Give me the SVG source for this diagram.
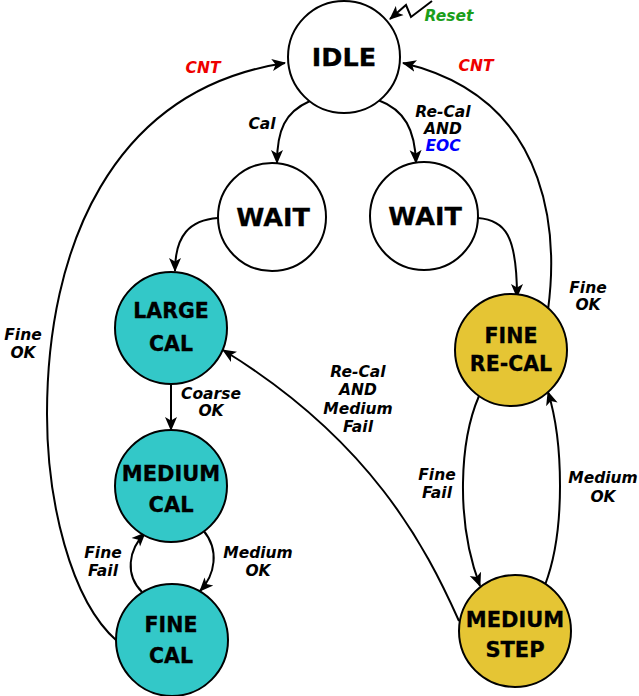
<svg xmlns="http://www.w3.org/2000/svg" width="639" height="696" viewBox="0 0 639 696">
<style>
.n{stroke:#000;stroke-width:2}
.w{fill:#fff}
.t{fill:#33c8c8}
.y{fill:#e5c534}
.nt{font-family:"DejaVu Sans",sans-serif;font-weight:bold;text-anchor:middle;fill:#000;stroke:#000;stroke-width:0.3}
.lb{font-family:"DejaVu Sans",sans-serif;font-weight:bold;font-style:italic;font-size:15.5px;text-anchor:middle;fill:#000}
.ea{fill:none;stroke:#000;stroke-width:2;marker-end:url(#ah)}
</style>
<defs>
<marker id="ah" markerUnits="userSpaceOnUse" markerWidth="16" markerHeight="14" refX="13" refY="6" orient="auto" viewBox="0 0 16 12">
<path d="M0,0 L14,6 L0,12 L3.5,6 Z" fill="#000"/>
</marker>
</defs>
<g id="connectors">
<path class="ea" d="M432,1 L411,17 L406,5 L390,19"/>
<path class="ea" d="M117,641 C70,600 47,500 47,414 C47,250 110,90 285,63"/>
<path class="ea" d="M548,310 C556,250 560,100 403,63"/>
<path class="ea" d="M310,101 C285,112 277,130 277,163"/>
<path class="ea" d="M378,100 C405,110 415,130 416,163"/>
<path class="ea" d="M218,218 C190,220 175,235 175,271"/>
<path class="ea" d="M478,218 C505,220 517,235 517,297"/>
<path class="ea" d="M171,384 L171,430"/>
<path class="ea" d="M142,592 C125,575 128,550 145,533"/>
<path class="ea" d="M203,530 C220,550 215,575 200,591"/>
<path class="ea" d="M459,621 C425,545 370,440 223,350"/>
<path class="ea" d="M479,396 C460,440 455,520 480,586"/>
<path class="ea" d="M545,585 C566,530 563,440 548,392"/>
</g>
<g id="labels">
<text class="lb" x="449" y="21" style="fill:#1a9e1a">Reset</text>
<text class="lb" x="203" y="73" style="fill:#e00">CNT</text>
<text class="lb" x="476" y="71" style="fill:#e00">CNT</text>
<text class="lb" x="262" y="129">Cal</text>
<text class="lb" x="443" y="117">Re-Cal</text>
<text class="lb" x="443" y="134">AND</text>
<text class="lb" x="443" y="151" style="fill:#00f">EOC</text>
<text class="lb" x="23" y="340">Fine</text>
<text class="lb" x="23" y="358">OK</text>
<text class="lb" x="588" y="293">Fine</text>
<text class="lb" x="588" y="310">OK</text>
<text class="lb" x="211" y="399">Coarse</text>
<text class="lb" x="211" y="416">OK</text>
<text class="lb" x="358" y="377">Re-Cal</text>
<text class="lb" x="358" y="395">AND</text>
<text class="lb" x="358" y="414">Medium</text>
<text class="lb" x="358" y="432">Fail</text>
<text class="lb" x="103" y="558">Fine</text>
<text class="lb" x="103" y="576">Fail</text>
<text class="lb" x="258" y="558">Medium</text>
<text class="lb" x="258" y="576">OK</text>
<text class="lb" x="437" y="480">Fine</text>
<text class="lb" x="437" y="498">Fail</text>
<text class="lb" x="603" y="483">Medium</text>
<text class="lb" x="603" y="502">OK</text>
</g>
<g id="idle">
<circle class="n w" cx="344" cy="57" r="56"/>
<text class="nt" x="344" y="66" font-size="25.5">IDLE</text>
</g>
<g id="wait1">
<circle class="n w" cx="272" cy="217" r="54"/>
<text class="nt" x="273" y="226" font-size="25.5">WAIT</text>
</g>
<g id="wait2">
<circle class="n w" cx="424" cy="216" r="54"/>
<text class="nt" x="425" y="225" font-size="25.5">WAIT</text>
</g>
<g id="largecal">
<circle class="n t" cx="171" cy="328" r="56"/>
<text class="nt" x="171" y="318" font-size="20.5">LARGE</text>
<text class="nt" x="171" y="351" font-size="20.5">CAL</text>
</g>
<g id="mediumcal">
<circle class="n t" cx="171" cy="486" r="56"/>
<text class="nt" x="171" y="481" font-size="21">MEDIUM</text>
<text class="nt" x="171" y="512" font-size="21">CAL</text>
</g>
<g id="finecal">
<circle class="n t" cx="172" cy="640" r="56"/>
<text class="nt" x="171" y="632" font-size="20.5">FINE</text>
<text class="nt" x="171" y="663" font-size="20.5">CAL</text>
</g>
<g id="finerecal">
<circle class="n y" cx="511" cy="350" r="56"/>
<text class="nt" x="511" y="343" font-size="20.5">FINE</text>
<text class="nt" x="511" y="371" font-size="20.5">RE-CAL</text>
</g>
<g id="mediumstep">
<circle class="n y" cx="515" cy="631" r="56"/>
<text class="nt" x="515" y="627" font-size="21">MEDIUM</text>
<text class="nt" x="515" y="657" font-size="21">STEP</text>
</g>
</svg>
